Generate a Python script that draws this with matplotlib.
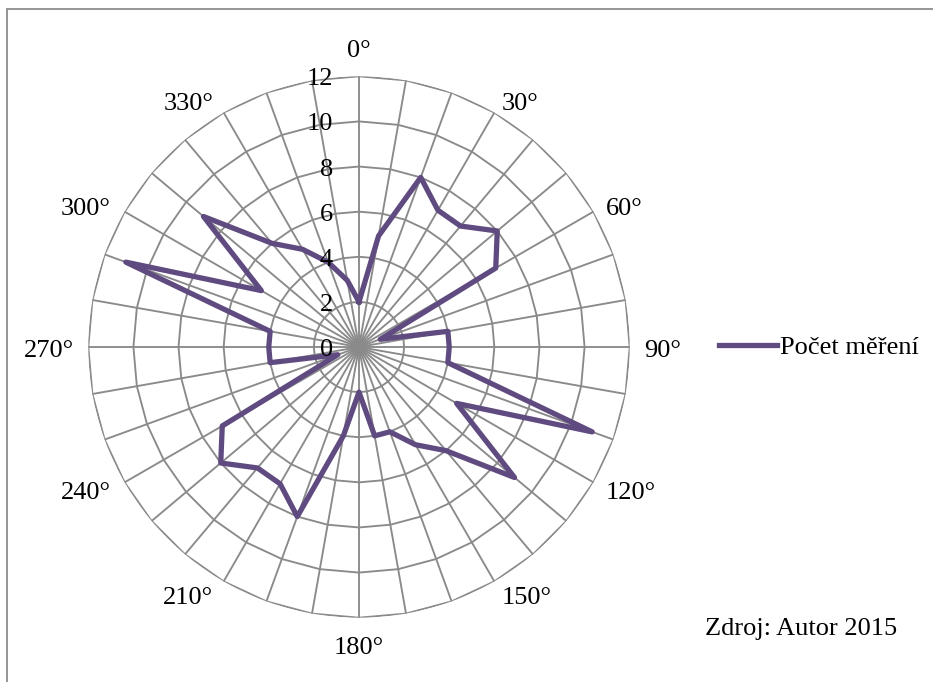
import numpy as np
import matplotlib
matplotlib.use("Agg")
import matplotlib.pyplot as plt
from matplotlib.patches import Rectangle

# ---- data ----
angles_deg = list(range(0, 360, 10))
values = [2, 5, 8, 7, 7, 8, 7, 1, 4, 4, 4, 11, 5, 9, 6, 5, 4, 4,
          2, 4, 8, 7, 7, 8, 7, 1, 4, 4, 4, 11, 5, 9, 6, 5, 4, 3]
radial_ticks = [0, 2, 4, 6, 8, 10, 12]
angle_label_deg = list(range(0, 360, 30))
series_name = "Počet měření"
source_text = "Zdroj: Autor 2015"

W, H = 933, 682
fig = plt.figure(figsize=(W / 100, H / 100), dpi=100)
plt.rcParams['font.family'] = ['Liberation Serif', 'DejaVu Serif']
FS = 19
grid_color = "#8a8a8a"
line_color = "#5f4b80"

# chart border (runs off the right and bottom edges)
fig.patches.append(Rectangle((7.5 / W, -0.1), 1.2, (H - 9) / H + 0.1,
                             transform=fig.transFigure, fill=False,
                             edgecolor="#8c8c8c", linewidth=1.3))

cx, cy, R = 359, 347, 270.7
ax = fig.add_axes([(cx - R) / W, (H - cy - R) / H, 2 * R / W, 2 * R / H],
                  projection='polar')
ax.set_theta_zero_location('N')
ax.set_theta_direction(-1)
ax.set_ylim(0, 12)
ax.axis('off')

th = np.deg2rad(angles_deg)
th_closed = np.append(th, th[0])

# polygon rings
for r in radial_ticks[1:]:
    ax.plot(th_closed, [r] * len(th_closed), color=grid_color, lw=1.35,
            zorder=1, solid_joinstyle='miter')
# spokes
for t in th:
    ax.plot([t, t], [0, 12], color=grid_color, lw=1.35, zorder=1)

# data
ax.plot(th_closed, values + [values[0]], color=line_color, lw=3.8,
        solid_joinstyle='round', zorder=3, label=series_name)

# radial tick labels
for r in radial_ticks:
    ax.annotate(str(r), xy=(0, r), xytext=(-26, -3),
                textcoords='offset pixels', ha='right', va='center',
                fontsize=FS, zorder=4)

# angle labels
off = 14
for a in angle_label_deg:
    s, c = np.sin(np.deg2rad(a)), np.cos(np.deg2rad(a))
    dx, dy = off * s, off * c
    if abs(s) < 0.01:
        ha = 'center'
        va = 'bottom' if c > 0 else 'top'
        if c < 0:
            dy -= 5
    else:
        ha = 'left' if s > 0 else 'right'
        va = 'center'
        dy -= 4
        if s < 0:
            dx -= 4 * abs(c)
    ax.annotate(f"{a}°", xy=(np.deg2rad(a), 12),
                xytext=(dx, dy), textcoords='offset pixels',
                ha=ha, va=va, fontsize=FS, annotation_clip=False)

# legend
fig.legend(loc='center left', bbox_to_anchor=(719 / W, (H - 347) / H),
           frameon=False, fontsize=FS, handlelength=2.2, handletextpad=0.1,
           borderaxespad=0, borderpad=0)

fig.text(705 / W, (H - 629) / H, source_text, fontsize=FS,
         ha='left', va='center')

fig.savefig("out.png", dpi=100)
